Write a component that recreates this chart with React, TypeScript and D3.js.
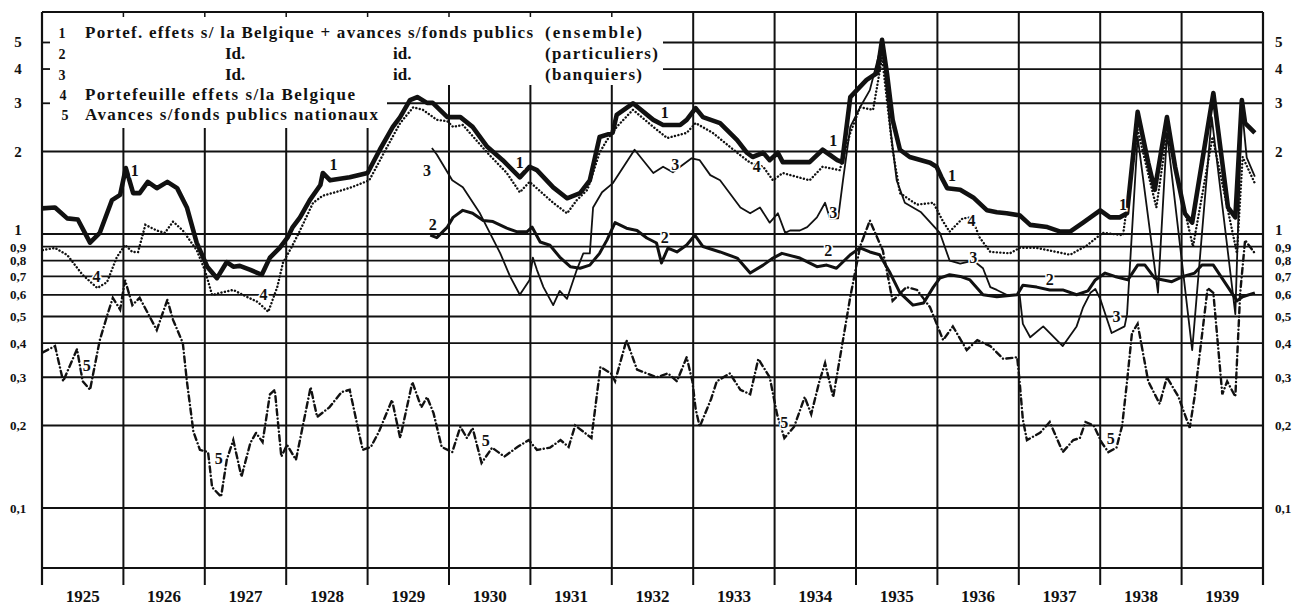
import React from "react";
import * as d3 from "d3";

// ---------- data (year fraction, value) ----------
const years = d3.range(1925, 1940);
const yearLabels = years.map(String);
const gridValues = [5, 4, 3, 2, 1, 0.9, 0.8, 0.7, 0.6, 0.5, 0.4, 0.3, 0.2, 0.1];
const gridLabels = ["5", "4", "3", "2", "1", "0,9", "0,8", "0,7", "0,6", "0,5", "0,4", "0,3", "0,2", "0,1"];

const s1Ensemble: [number, number][] = [
  [1925.0, 1.24], [1925.16, 1.25], [1925.31, 1.14], [1925.44, 1.13], [1925.59, 0.93], [1925.71, 1.01],
  [1925.86, 1.33], [1925.96, 1.39], [1926.03, 1.74], [1926.12, 1.41], [1926.2, 1.41], [1926.3, 1.55],
  [1926.41, 1.47], [1926.54, 1.55], [1926.66, 1.47], [1926.78, 1.25], [1926.9, 0.93], [1927.03, 0.76],
  [1927.15, 0.69], [1927.27, 0.79], [1927.35, 0.76], [1927.43, 0.765], [1927.56, 0.74], [1927.7, 0.71],
  [1927.8, 0.82], [1927.92, 0.89], [1928.02, 0.975], [1928.08, 1.06], [1928.17, 1.15], [1928.29, 1.33],
  [1928.42, 1.51], [1928.45, 1.67], [1928.54, 1.57], [1928.78, 1.61], [1929.0, 1.67], [1929.15, 2.03],
  [1929.31, 2.46], [1929.4, 2.67], [1929.52, 3.08], [1929.61, 3.16], [1929.73, 3.01], [1929.8, 3.01],
  [1929.98, 2.67], [1930.14, 2.67], [1930.29, 2.46], [1930.47, 2.08], [1930.66, 1.86], [1930.87, 1.61],
  [1930.99, 1.76], [1931.08, 1.71], [1931.28, 1.48], [1931.45, 1.35], [1931.61, 1.41], [1931.73, 1.57],
  [1931.85, 2.26], [1932.01, 2.34], [1932.06, 2.72], [1932.26, 3.0], [1932.51, 2.61], [1932.63, 2.5],
  [1932.84, 2.5], [1932.92, 2.61], [1933.03, 2.88], [1933.12, 2.67], [1933.33, 2.54], [1933.54, 2.2],
  [1933.66, 1.98], [1933.73, 1.91], [1933.86, 1.98], [1933.94, 1.86], [1934.04, 1.98], [1934.1, 1.83],
  [1934.43, 1.83], [1934.59, 2.03], [1934.77, 1.86], [1934.83, 1.83], [1934.93, 3.16], [1935.01, 3.35],
  [1935.13, 3.65], [1935.26, 3.87], [1935.32, 5.11], [1935.38, 3.87], [1935.45, 2.61], [1935.54, 2.03],
  [1935.66, 1.91], [1935.91, 1.82], [1935.99, 1.76], [1936.05, 1.61], [1936.12, 1.47], [1936.28, 1.45],
  [1936.44, 1.36], [1936.61, 1.22], [1936.73, 1.2], [1936.85, 1.19], [1937.01, 1.17], [1937.14, 1.08],
  [1937.35, 1.06], [1937.51, 1.02], [1937.63, 1.02], [1937.79, 1.1], [1938.0, 1.22], [1938.12, 1.15],
  [1938.24, 1.15], [1938.33, 1.19], [1938.46, 2.79], [1938.59, 1.82], [1938.67, 1.45], [1938.82, 2.67],
  [1938.92, 1.76], [1939.04, 1.19], [1939.13, 1.1], [1939.25, 1.82], [1939.39, 3.27], [1939.5, 1.82],
  [1939.57, 1.25], [1939.66, 1.15], [1939.74, 3.08], [1939.78, 2.54], [1939.9, 2.34],
];

const s2Particuliers: [number, number][] = [
  [1929.77, 0.99], [1929.85, 0.97], [1929.98, 1.06], [1930.05, 1.15], [1930.17, 1.22], [1930.29, 1.19],
  [1930.42, 1.12], [1930.54, 1.11], [1930.71, 1.05], [1930.83, 1.02], [1930.96, 1.02], [1931.02, 1.06],
  [1931.12, 0.935], [1931.24, 0.91], [1931.36, 0.824], [1931.49, 0.76], [1931.61, 0.75], [1931.73, 0.77],
  [1931.85, 0.85], [1931.94, 0.95], [1932.04, 1.1], [1932.18, 1.05], [1932.31, 1.03], [1932.43, 0.967],
  [1932.55, 0.927], [1932.61, 0.784], [1932.69, 0.889], [1932.8, 0.86], [1932.92, 0.912], [1933.02, 0.99],
  [1933.12, 0.9], [1933.33, 0.86], [1933.54, 0.817], [1933.7, 0.72], [1933.86, 0.77], [1933.98, 0.817],
  [1934.09, 0.85], [1934.31, 0.817], [1934.52, 0.76], [1934.64, 0.77], [1934.76, 0.75], [1934.93, 0.84],
  [1935.05, 0.89], [1935.17, 0.86], [1935.29, 0.84], [1935.42, 0.72], [1935.54, 0.61], [1935.7, 0.55],
  [1935.83, 0.56], [1935.95, 0.64], [1936.03, 0.69], [1936.15, 0.71], [1936.28, 0.7], [1936.4, 0.68],
  [1936.56, 0.6], [1936.73, 0.59], [1936.98, 0.6], [1937.05, 0.65], [1937.22, 0.64], [1937.38, 0.625],
  [1937.54, 0.625], [1937.71, 0.6], [1937.85, 0.62], [1937.94, 0.68], [1938.06, 0.72], [1938.18, 0.7],
  [1938.34, 0.68], [1938.46, 0.77], [1938.55, 0.77], [1938.67, 0.69], [1938.88, 0.67], [1939.02, 0.7],
  [1939.16, 0.72], [1939.25, 0.77], [1939.39, 0.77], [1939.57, 0.64], [1939.68, 0.57], [1939.75, 0.59],
  [1939.9, 0.61],
];

const s3Banquiers: [number, number][] = [
  [1929.79, 2.06], [1929.85, 1.95], [1930.04, 1.57], [1930.17, 1.48], [1930.38, 1.19], [1930.63, 0.85],
  [1930.75, 0.7], [1930.87, 0.6], [1930.99, 0.68], [1931.03, 0.82], [1931.08, 0.74], [1931.16, 0.64],
  [1931.28, 0.55], [1931.36, 0.62], [1931.45, 0.58], [1931.57, 0.74], [1931.65, 0.85], [1931.73, 0.85],
  [1931.77, 1.25], [1931.88, 1.42], [1932.01, 1.53], [1932.28, 2.03], [1932.51, 1.67], [1932.63, 1.76],
  [1932.75, 1.68], [1932.98, 1.89], [1933.08, 1.86], [1933.21, 1.64], [1933.33, 1.57], [1933.58, 1.25],
  [1933.7, 1.19], [1933.82, 1.25], [1933.94, 1.1], [1934.04, 1.19], [1934.13, 1.01], [1934.19, 1.03],
  [1934.31, 1.03], [1934.4, 1.06], [1934.52, 1.15], [1934.62, 1.3], [1934.68, 1.14], [1934.78, 1.14],
  [1934.84, 1.57], [1934.93, 2.46], [1935.05, 2.9], [1935.17, 3.35], [1935.32, 5.0], [1935.42, 2.46],
  [1935.5, 1.57], [1935.6, 1.3], [1935.8, 1.2], [1936.03, 1.01], [1936.15, 0.8], [1936.28, 0.78],
  [1936.44, 0.8], [1936.56, 0.75], [1936.65, 0.64], [1936.73, 0.625], [1936.85, 0.6], [1937.01, 0.6],
  [1937.05, 0.47], [1937.14, 0.42], [1937.3, 0.46], [1937.54, 0.39], [1937.71, 0.46], [1937.79, 0.54],
  [1937.88, 0.61], [1937.94, 0.63], [1938.0, 0.58], [1938.14, 0.435], [1938.3, 0.46], [1938.33, 0.51],
  [1938.46, 2.26], [1938.71, 0.61], [1938.82, 2.34], [1939.13, 0.377], [1939.37, 2.67], [1939.66, 0.51],
  [1939.74, 2.9], [1939.8, 1.9], [1939.9, 1.62],
];

const s4Portefeuille: [number, number][] = [
  [1925.01, 0.874], [1925.16, 0.889], [1925.31, 0.838], [1925.5, 0.709], [1925.68, 0.635], [1925.8, 0.668],
  [1925.92, 0.824], [1926.02, 0.912], [1926.11, 0.86], [1926.18, 0.86], [1926.27, 1.08], [1926.41, 1.03],
  [1926.51, 1.01], [1926.61, 1.11], [1926.73, 1.03], [1926.9, 0.874], [1927.0, 0.739], [1927.09, 0.599],
  [1927.19, 0.61], [1927.35, 0.625], [1927.52, 0.589], [1927.65, 0.565], [1927.78, 0.52], [1927.89, 0.64],
  [1927.96, 0.784], [1928.07, 0.9], [1928.17, 1.03], [1928.33, 1.3], [1928.45, 1.38], [1928.6, 1.42],
  [1928.8, 1.48], [1929.02, 1.57], [1929.24, 2.08], [1929.4, 2.54], [1929.56, 2.9], [1929.68, 2.84],
  [1929.85, 2.61], [1929.98, 2.58], [1930.05, 2.46], [1930.17, 2.5], [1930.47, 1.98], [1930.71, 1.67],
  [1930.87, 1.42], [1930.99, 1.55], [1931.1, 1.45], [1931.28, 1.3], [1931.45, 1.19], [1931.57, 1.33],
  [1931.7, 1.45], [1931.85, 1.98], [1931.94, 2.2], [1932.06, 2.46], [1932.26, 2.84], [1932.51, 2.46],
  [1932.68, 2.24], [1932.92, 2.34], [1933.03, 2.54], [1933.24, 2.34], [1933.54, 1.98], [1933.7, 1.82],
  [1933.86, 1.76], [1933.98, 1.57], [1934.1, 1.67], [1934.43, 1.57], [1934.59, 1.76], [1934.8, 1.71],
  [1934.93, 2.34], [1935.05, 2.9], [1935.21, 2.84], [1935.32, 4.4], [1935.45, 2.03], [1935.54, 1.41],
  [1935.75, 1.28], [1935.95, 1.3], [1936.07, 1.11], [1936.15, 1.02], [1936.31, 1.14], [1936.42, 1.15],
  [1936.52, 0.97], [1936.65, 0.86], [1936.89, 0.85], [1937.01, 0.89], [1937.22, 0.89], [1937.63, 0.84],
  [1937.84, 0.91], [1938.03, 1.01], [1938.28, 0.99], [1938.46, 2.4], [1938.69, 1.25], [1938.82, 2.34],
  [1939.14, 0.9], [1939.38, 2.26], [1939.68, 0.85], [1939.75, 1.91], [1939.9, 1.53],
];

const s5Avances: [number, number][] = [
  [1925.01, 0.37], [1925.16, 0.39], [1925.26, 0.29], [1925.43, 0.38], [1925.5, 0.29], [1925.59, 0.27],
  [1925.71, 0.41], [1925.81, 0.515], [1925.87, 0.585], [1925.96, 0.53], [1926.02, 0.68], [1926.11, 0.55],
  [1926.2, 0.585], [1926.41, 0.446], [1926.54, 0.575], [1926.61, 0.486], [1926.73, 0.4], [1926.78, 0.29],
  [1926.86, 0.19], [1926.94, 0.163], [1927.04, 0.16], [1927.09, 0.119], [1927.2, 0.11], [1927.27, 0.15],
  [1927.35, 0.177], [1927.45, 0.13], [1927.56, 0.173], [1927.63, 0.188], [1927.71, 0.174], [1927.8, 0.26],
  [1927.86, 0.27], [1927.94, 0.154], [1928.01, 0.17], [1928.12, 0.15], [1928.3, 0.276], [1928.38, 0.215],
  [1928.53, 0.233], [1928.68, 0.265], [1928.78, 0.27], [1928.94, 0.163], [1929.04, 0.167], [1929.14, 0.19],
  [1929.3, 0.248], [1929.4, 0.18], [1929.55, 0.288], [1929.66, 0.233], [1929.73, 0.254], [1929.81, 0.222],
  [1929.91, 0.167], [1930.04, 0.16], [1930.14, 0.198], [1930.22, 0.18], [1930.29, 0.196], [1930.4, 0.146],
  [1930.53, 0.166], [1930.68, 0.154], [1930.84, 0.167], [1930.98, 0.177], [1931.08, 0.163], [1931.24, 0.166],
  [1931.37, 0.177], [1931.47, 0.167], [1931.55, 0.2], [1931.65, 0.19], [1931.75, 0.18], [1931.86, 0.327],
  [1931.99, 0.31], [1932.04, 0.29], [1932.18, 0.41], [1932.31, 0.32], [1932.43, 0.31], [1932.55, 0.3],
  [1932.69, 0.31], [1932.8, 0.29], [1932.92, 0.355], [1932.99, 0.29], [1933.03, 0.23], [1933.08, 0.198],
  [1933.22, 0.25], [1933.29, 0.29], [1933.45, 0.31], [1933.58, 0.27], [1933.7, 0.26], [1933.8, 0.35],
  [1933.94, 0.3], [1934.03, 0.22], [1934.12, 0.18], [1934.24, 0.198], [1934.37, 0.254], [1934.45, 0.22],
  [1934.55, 0.29], [1934.62, 0.338], [1934.72, 0.254], [1934.84, 0.41], [1934.93, 0.59], [1935.05, 0.9],
  [1935.17, 1.12], [1935.33, 0.87], [1935.45, 0.57], [1935.62, 0.64], [1935.75, 0.625], [1935.91, 0.54],
  [1936.07, 0.41], [1936.19, 0.46], [1936.36, 0.377], [1936.49, 0.41], [1936.65, 0.39], [1936.81, 0.35],
  [1936.98, 0.355], [1937.01, 0.29], [1937.05, 0.21], [1937.1, 0.177], [1937.26, 0.188], [1937.38, 0.206],
  [1937.54, 0.16], [1937.67, 0.177], [1937.75, 0.18], [1937.82, 0.206], [1937.92, 0.2], [1938.02, 0.173],
  [1938.1, 0.16], [1938.2, 0.166], [1938.27, 0.2], [1938.33, 0.29], [1938.39, 0.435], [1938.46, 0.47],
  [1938.59, 0.29], [1938.73, 0.24], [1938.82, 0.3], [1938.96, 0.255], [1939.1, 0.196], [1939.16, 0.255],
  [1939.32, 0.635], [1939.39, 0.61], [1939.5, 0.26], [1939.56, 0.29], [1939.66, 0.255], [1939.72, 0.61],
  [1939.78, 0.95], [1939.9, 0.85],
];

// series identifiers written on the curves
const labels1: [number, number][] = [[1926.14, 1.71], [1928.58, 1.79], [1930.87, 1.82], [1932.65, 2.78], [1934.72, 2.2], [1936.18, 1.64], [1938.28, 1.28]];
const labels2: [number, number][] = [[1929.8, 1.08], [1932.65, 0.975], [1934.66, 0.87], [1937.38, 0.68]];
const labels3: [number, number][] = [[1929.73, 1.71], [1932.78, 1.79], [1934.72, 1.2], [1936.44, 0.82], [1938.2, 0.5]];
const labels4: [number, number][] = [[1925.67, 0.7], [1927.72, 0.6], [1933.78, 1.76], [1936.42, 1.12]];
const labels5: [number, number][] = [[1925.55, 0.33], [1927.17, 0.152], [1930.45, 0.177], [1934.12, 0.206], [1938.13, 0.18]];

const FONT = "'Liberation Serif', 'DejaVu Serif', serif";

export default function App() {
  const W = 1296, H = 605;
  const L = 42, R = 1263, T = 12, B = 568, TICK_END = 585;
  const x = d3.scaleLinear().domain([1925, 1940]).range([L, R]);
  const y = d3.scaleLog().domain([0.0604, 6.46]).range([B, T]);
  const line = d3.line<[number, number]>().x((d) => x(d[0])).y((d) => y(d[1])).curve(d3.curveLinear);

  const gridStart = (v: number) => (v >= 4 ? 663 : v === 3 ? 387 : L);
  const vStart = (yr: number) => (yr <= 1929 ? 128 : yr <= 1932 ? 85 : T);
  // small vertical nudge so the crowded labels near 1 do not collide
  const labelShift = (v: number) => (v === 1 ? -4 : v === 0.9 ? 1 : 0);

  const lbl = (pts: [number, number][], t: string, key: string) =>
    pts.map((p, i) => (
      <text key={key + i} x={x(p[0])} y={y(p[1])} dominantBaseline="central" textAnchor="middle"
        fontSize={16} fontWeight="bold" fontFamily={FONT} fill="#111"
        stroke="#fff" strokeWidth={3} paintOrder="stroke">{t}</text>
    ));

  return (
    <svg width={W} height={H} style={{ position: "absolute", left: 0, top: 0, background: "#fff" }}>
      <rect x={0} y={0} width={W} height={H} fill="#fff" />
      {/* horizontal grid */}
      {gridValues.map((v) => (
        <line key={"h" + v} x1={gridStart(v)} x2={R} y1={y(v)} y2={y(v)} stroke="#111" strokeWidth={1.8} />
      ))}
      {[5, 4, 3].map((v) => (
        <line key={"lt" + v} x1={L} x2={L + 8} y1={y(v)} y2={y(v)} stroke="#111" strokeWidth={1.8} />
      ))}
      {/* vertical year lines */}
      {years.slice(1).map((yr) => (
        <g key={"v" + yr}>
          <line x1={x(yr)} x2={x(yr)} y1={vStart(yr)} y2={TICK_END} stroke="#111" strokeWidth={2} />
          {vStart(yr) > T && <line x1={x(yr)} x2={x(yr)} y1={T} y2={T + 5} stroke="#111" strokeWidth={1.5} />}
        </g>
      ))}
      {/* frame */}
      <line x1={L} x2={R} y1={T} y2={T} stroke="#111" strokeWidth={2} />
      <line x1={L} x2={R} y1={B} y2={B} stroke="#111" strokeWidth={2.2} />
      <line x1={L} x2={L} y1={T} y2={TICK_END} stroke="#111" strokeWidth={2.2} />
      <line x1={R} x2={R} y1={T} y2={TICK_END} stroke="#111" strokeWidth={2.2} />

      {/* series */}
      <path d={line(s5Avances) || ""} fill="none" stroke="#111" strokeWidth={2.4} strokeDasharray="6 3.5 0.1 3.5" strokeLinecap="round" />
      <path d={line(s4Portefeuille) || ""} fill="none" stroke="#111" strokeWidth={2.4} strokeDasharray="0.1 3.4" strokeLinecap="round" />
      <path d={line(s3Banquiers) || ""} fill="none" stroke="#111" strokeWidth={1.8} strokeLinejoin="round" />
      <path d={line(s2Particuliers) || ""} fill="none" stroke="#111" strokeWidth={3} strokeLinejoin="round" />
      <path d={line(s1Ensemble) || ""} fill="none" stroke="#111" strokeWidth={4.6} strokeLinejoin="round" />

      {lbl(labels1, "1", "a")}
      {lbl(labels2, "2", "b")}
      {lbl(labels3, "3", "c")}
      {lbl(labels4, "4", "d")}
      {lbl(labels5, "5", "e")}

      {/* axis labels */}
      <g fontFamily={FONT} fontWeight="bold" fill="#111">
        {gridValues.map((v, i) => (
          <g key={"yl" + v} fontSize={v >= 1 ? 15 : 13}>
            <text x={18} y={y(v) + labelShift(v)} textAnchor="middle" dominantBaseline="central">{gridLabels[i]}</text>
            <text x={1275} y={y(v) + labelShift(v)} textAnchor="start" dominantBaseline="central">{gridLabels[i]}</text>
          </g>
        ))}
      </g>
      <g fontFamily={FONT} fontWeight="bold" fontSize={17} fill="#111">
        {years.map((yr, i) => (
          <text key={"yr" + yr} x={x(yr + 0.5)} y={602} textAnchor="middle">{yearLabels[i]}</text>
        ))}
      </g>

      {/* legend */}
      <g fontFamily={FONT} fontWeight="bold" fontSize={17} fill="#111">
        <text x={62} y={38} textAnchor="middle" fontSize={14}>1</text>
        <text x={85} y={38} textLength={448} lengthAdjust="spacing">Portef. effets s/ la Belgique + avances s/fonds publics</text>
        <text x={545} y={38} textLength={97} lengthAdjust="spacing">(ensemble)</text>
        <text x={62} y={59} textAnchor="middle" fontSize={14}>2</text>
        <text x={225} y={59}>Id.</text>
        <text x={393} y={59}>id.</text>
        <text x={545} y={59} textLength={113} lengthAdjust="spacing">(particuliers)</text>
        <text x={62} y={80} textAnchor="middle" fontSize={14}>3</text>
        <text x={225} y={80}>Id.</text>
        <text x={393} y={80}>id.</text>
        <text x={545} y={80} textLength={97} lengthAdjust="spacing">(banquiers)</text>
        <text x={63} y={100} textAnchor="middle" fontSize={14}>4</text>
        <text x={85} y={100} textLength={270} lengthAdjust="spacing">Portefeuille effets s/la Belgique</text>
        <text x={65} y={120} textAnchor="middle" fontSize={14}>5</text>
        <text x={85} y={120} textLength={293} lengthAdjust="spacing">Avances s/fonds publics nationaux</text>
      </g>
    </svg>
  );
}
